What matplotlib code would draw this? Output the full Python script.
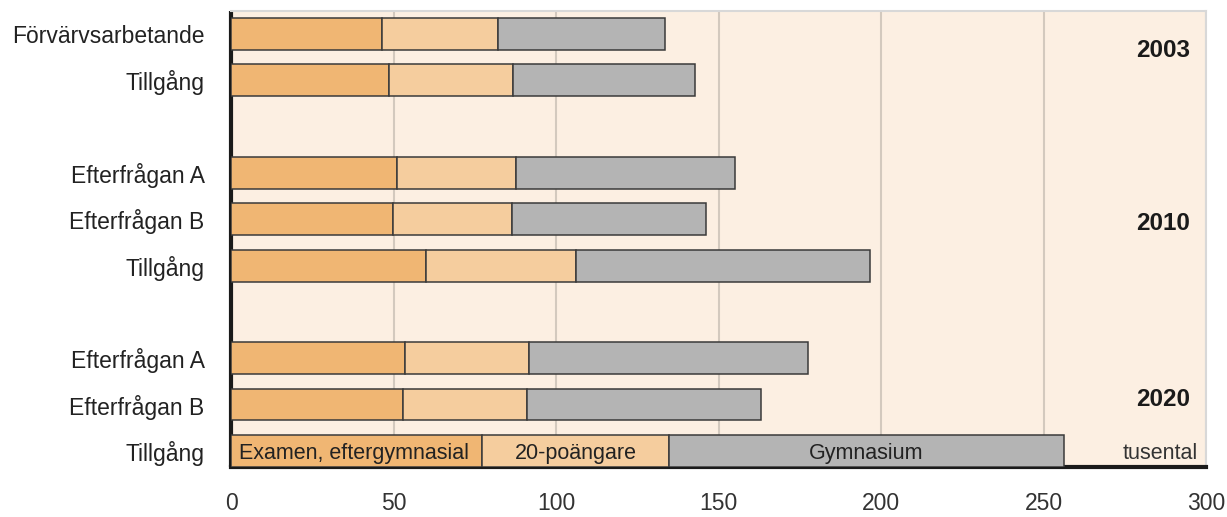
import numpy as np
import matplotlib.pyplot as plt

# row labels (top to bottom) and where they sit on the y axis
row_labels = ["Förvärvsarbetande", "Tillgång",
              "Efterfrågan A", "Efterfrågan B", "Tillgång",
              "Efterfrågan A", "Efterfrågan B", "Tillgång"]
row_pos = [0, 1, 3, 4, 5, 7, 8, 9]

# thousands of people per education level
examen = [46.5, 48.6, 51.1, 49.8, 60.0, 53.5, 52.9, 77.2]
poangare = [35.7, 38.2, 36.6, 36.7, 46.2, 38.2, 38.2, 57.6]
gymnasium = [51.3, 56.0, 67.4, 59.7, 90.4, 85.8, 72.0, 121.5]

series_names = ["Examen, eftergymnasial", "20-poängare", "Gymnasium"]
colors = ["#F0B673", "#F5CD9E", "#B4B4B4"]

years = ["2003", "2010", "2020"]
year_pos = [0.35, 4.1, 7.9]

plt.rcParams['font.family'] = ['Liberation Sans', 'DejaVu Sans']

fig = plt.figure(figsize=(12.27, 5.17), dpi=100)
ax = fig.add_axes([0.1883, 0.0967, 0.7946, 0.882])
ax.set_facecolor("#FCEFE2")

h = 0.69
left = np.zeros(len(row_pos))
for vals, c in zip([examen, poangare, gymnasium], colors):
    ax.barh(row_pos, vals, left=left, height=h, color=c,
            edgecolor="#3a3a3a", linewidth=1.1, zorder=3)
    left = left + np.array(vals)

# series names written inside the last bar
last = len(row_pos) - 1
ty = row_pos[last] + 0.05
ax.text(2.5, ty, series_names[0], ha="left", va="center",
        fontsize=15.5, color="#222222", zorder=4)
x0 = examen[last]
ax.text(x0 + poangare[last] / 2, ty, series_names[1], ha="center",
        va="center", fontsize=15.5, color="#222222", zorder=4)
x1 = x0 + poangare[last]
ax.text(x1 + gymnasium[last] / 2, ty, series_names[2], ha="center",
        va="center", fontsize=15.5, color="#222222", zorder=4)

for y, yr in zip(year_pos, years):
    ax.text(295, y, yr, ha="right", va="center", fontsize=17.5,
            fontweight="bold", color="#1a1a1a")
ax.text(297.5, 9.05, "tusental", ha="right", va="center", fontsize=15.5,
        color="#333333")

ax.set_xlim(0, 300)
ax.set_ylim(9.35, -0.5)
ax.set_xticks(range(0, 301, 50))
ax.set_yticks(row_pos)
ax.set_yticklabels(row_labels)
ax.tick_params(axis="x", length=0, pad=18, labelsize=16.5, labelcolor="#333333")
ax.tick_params(axis="y", length=0, pad=19, labelsize=16.5, labelcolor="#222222")

ax.xaxis.grid(True, color="#D3C9BE", linewidth=1.5, zorder=0)
ax.set_axisbelow(True)

ax.spines["left"].set_linewidth(3)
ax.spines["left"].set_color("#1a1a1a")
ax.spines["left"].set_capstyle("butt")
ax.spines["bottom"].set_linewidth(3)
ax.spines["bottom"].set_color("#1a1a1a")
for s in ["top", "right"]:
    ax.spines[s].set_color("#D8D8D8")
    ax.spines[s].set_linewidth(1.5)

fig.savefig("out.png", dpi=100, facecolor="white")
